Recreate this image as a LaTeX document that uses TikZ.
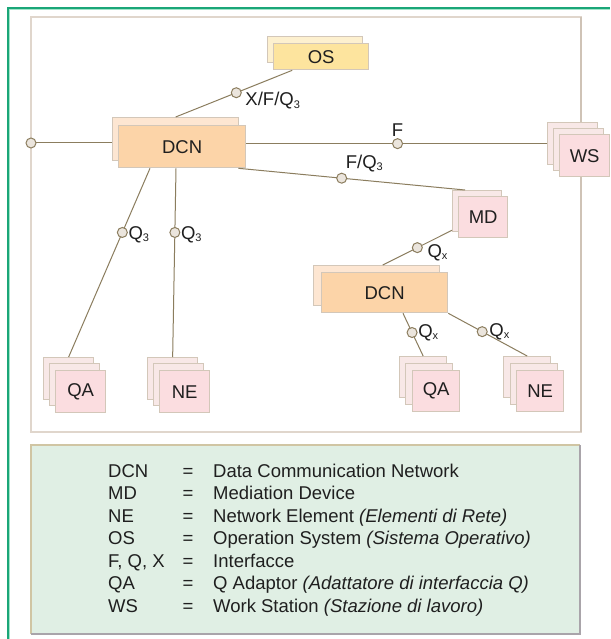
\documentclass[tikz,border=0pt]{standalone}
\usepackage{fontspec}
\setmainfont{Liberation Sans}
\usetikzlibrary{calc}
\definecolor{ln}{HTML}{8B7D5E}
\definecolor{cf}{HTML}{EBE5DD}
\definecolor{bd}{HTML}{D3C7B9}
\definecolor{dcnf}{HTML}{FCD4A8}
\definecolor{dcnb}{HTML}{FDE6D2}
\definecolor{osf}{HTML}{FDE49E}
\definecolor{osb}{HTML}{FDF0CF}
\definecolor{pkf}{HTML}{FBDDE0}
\definecolor{pkb}{HTML}{F8E8E7}
\definecolor{grn}{HTML}{1AA678}
\definecolor{grnl}{HTML}{A3E4CA}
\definecolor{frm}{HTML}{E0D6CC}
\definecolor{frmd}{HTML}{CFC3B6}
\definecolor{legf}{HTML}{E0EFE4}
\definecolor{legt}{HTML}{D0C5A3}
\definecolor{legg}{HTML}{A9A4AA}
\newcommand\lbl{\fontsize{18.5}{22}\selectfont}
\newcommand\subx[1]{\raisebox{-2.5pt}{\fontsize{11}{11}\selectfont #1}}
\begin{document}
\begin{tikzpicture}[x=1pt,y=-1pt,
  bx/.style={draw=bd, line width=1.3pt, inner sep=0pt, anchor=north west, font=\lbl, text=black!88},
  conn/.style={draw=ln, line width=1pt},
  circ/.style={circle, draw=ln, fill=cf, line width=1pt, minimum size=10pt, inner sep=0pt},
  lab/.style={font=\lbl, inner sep=0pt, text=black!88},
  legtext/.style={font=\lbl, inner sep=0pt, anchor=base west, text=black!88}]
\useasboundingbox (0,0) rectangle (610,639);
% outer green frame
\draw[grnl, line width=1.2pt] (9.6,639) -- (9.6,9.6) -- (610,9.6);
\draw[grn, line width=1.4pt] (8,639) -- (8,8) -- (610,8);
% diagram frame
\draw[frm, fill=white, line width=2.4pt] (31,17) rectangle (581,432);
\draw[frmd, line width=2.4pt] (581,17) -- (581,432);
% legend frame
\fill[legf] (31,445) rectangle (580,634);
\draw[legt, line width=2.4pt] (31,634) -- (31,445) -- (580,445);
\draw[legg, line width=2.4pt] (31,634) -- (580,634) -- (580,445);

% nodes
\node[bx, fill=osb, minimum width=95pt, minimum height=26pt] (osb) at (267,36) {};
\node[bx, fill=osf, minimum width=95pt, minimum height=26pt] (os) at (273,43) {OS};
\node[bx, fill=dcnb, minimum width=126pt, minimum height=43pt] (dcn1b) at (112,117) {};
\node[bx, fill=dcnf, minimum width=127pt, minimum height=42pt] (dcn1) at (118,125) {DCN};
\node[bx, fill=pkb, minimum width=50pt, minimum height=42pt] (wsb1) at (547,122) {};
\node[bx, fill=pkb, minimum width=50pt, minimum height=42pt] (wsb2) at (553,128) {};
\node[bx, fill=pkf, minimum width=50pt, minimum height=42pt] (ws) at (559,134) {WS};
\node[bx, fill=pkb, minimum width=49pt, minimum height=41pt] (mdb) at (452,190) {};
\node[bx, fill=pkf, minimum width=49pt, minimum height=41pt] (md) at (458,196) {MD};
\node[bx, fill=dcnb, minimum width=126pt, minimum height=40pt] (dcn2b) at (313,265) {};
\node[bx, fill=dcnf, minimum width=126pt, minimum height=40pt] (dcn2) at (321,272) {DCN};
\node[bx, fill=pkb, minimum width=47pt, minimum height=41pt] (qa2b1) at (399,356) {};
\node[bx, fill=pkb, minimum width=47pt, minimum height=41pt] (qa2b2) at (405,363) {};
\node[bx, fill=pkf, minimum width=47pt, minimum height=41pt] (qa2) at (412,370) {QA};
\node[bx, fill=pkb, minimum width=47pt, minimum height=41pt] (ne2b1) at (503,356) {};
\node[bx, fill=pkb, minimum width=47pt, minimum height=41pt] (ne2b2) at (510,363) {};
\node[bx, fill=pkf, minimum width=47pt, minimum height=41pt] (ne2) at (516,370) {NE};
\node[bx, fill=pkb, minimum width=50pt, minimum height=42pt] (qa1b1) at (43,357) {};
\node[bx, fill=pkb, minimum width=50pt, minimum height=42pt] (qa1b2) at (49,363) {};
\node[bx, fill=pkf, minimum width=50pt, minimum height=42pt] (qa1) at (55,370) {QA};
\node[bx, fill=pkb, minimum width=50pt, minimum height=42pt] (ne1b1) at (147,357) {};
\node[bx, fill=pkb, minimum width=50pt, minimum height=42pt] (ne1b2) at (153,363) {};
\node[bx, fill=pkf, minimum width=50pt, minimum height=42pt] (ne1) at (159,370) {NE};

% connectors
\coordinate (lcp) at (31,143);
\draw[conn] (lcp) -- (lcp -| dcn1b.west);
\node[circ] (lc) at (lcp) {};

\draw[conn] (dcn1b.north) -- ($(os.south west)!0.2!(os.south east)$) node[circ, pos=0.52] (c1) {};
\node[lab, anchor=west] at ($(c1)+(9,8)$) {X/F/Q\subx{3}};

\draw[conn] (wsb1.west -| dcn1.east) -- (wsb1.west) node[circ, pos=0.503] (c2) {};
\node[lab, anchor=south] at ($(c2)+(0,-7)$) {F};

\draw[conn] ($(dcn1.south east)+(-8,0)$) -- ($(mdb.north west)+(13,0)$) node[circ, pos=0.456] (c3) {};
\node[lab, anchor=west] at ($(c3)+(4,-15)$) {F/Q\subx{3}};

\draw[conn] ($(mdb.south west)+(0,-2)$) -- ($(dcn2b.north)+(6,0)$) node[circ, pos=0.5] (c4) {};
\node[lab, anchor=west] at ($(c4)+(10,5)$) {Q\subx{x}};

\draw[conn] ($(dcn2.south west)+(82,0)$) -- (qa2b1.north) node[circ, pos=0.45] (c5) {};
\node[lab, anchor=west] at ($(c5)+(6,0)$) {Q\subx{x}};
\draw[conn] (dcn2.south east) -- (ne2b1.north) node[circ, pos=0.43] (c6) {};
\node[lab, anchor=west] at ($(c6)+(7,0)$) {Q\subx{x}};

\draw[conn] ($(dcn1.south west)+(32,0)$) -- (qa1b1.north) node[circ, pos=0.34] (c7) {};
\node[lab, anchor=west] at ($(c7)+(6,2)$) {Q\subx{3}};
\draw[conn] ($(dcn1.south west)+(58,0)$) -- (ne1b1.north) node[circ, pos=0.34] (c8) {};
\node[lab, anchor=west] at ($(c8)+(6,2)$) {Q\subx{3}};

% legend
\foreach \ab/\ds [count=\i] in {
  DCN/{Data Communication Network},
  MD/{Mediation Device},
  NE/{Network Element \textit{(Elementi di Rete)}},
  OS/{Operation System \textit{(Sistema Operativo)}},
  {F, Q, X}/{Interfacce},
  QA/{Q Adaptor \textit{(Adattatore di interfaccia Q)}},
  WS/{Work Station \textit{(Stazione di lavoro)}}}{
  \node[legtext] (la\i) at (108,{477+22.5*(\i-1)}) {\ab};
  \node[legtext, anchor=base] (le\i) at (188,{477+22.5*(\i-1)}) {=};
  \node[legtext] (ld\i) at (213,{477+22.5*(\i-1)}) {\ds};
}
\end{tikzpicture}
\end{document}
